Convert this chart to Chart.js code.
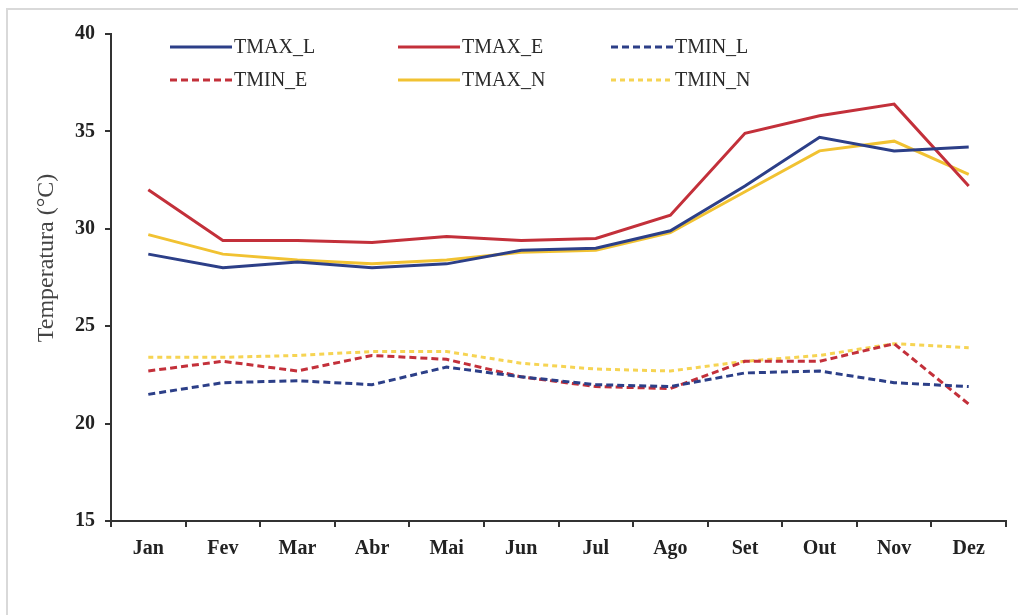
<!DOCTYPE html>
<html>
<head>
<meta charset="utf-8">
<script src="https://cdn.jsdelivr.net/npm/chart.js@4/dist/chart.umd.min.js"></script>
<style>
  html, body { margin: 0; padding: 0; background: #fff; }
  #wrap { width: 1018px; height: 615px; position: relative; }
</style>
</head>
<body>
<div id="wrap"><canvas id="c" width="1018" height="615"></canvas></div>
<script>
// Monthly mean temperatures (°C)
const months = ['Jan', 'Fev', 'Mar', 'Abr', 'Mai', 'Jun', 'Jul', 'Ago', 'Set', 'Out', 'Nov', 'Dez'];
const tmaxL = [28.7, 28.0, 28.3, 28.0, 28.2, 28.9, 29.0, 29.9, 32.2, 34.7, 34.0, 34.2];
const tmaxE = [32.0, 29.4, 29.4, 29.3, 29.6, 29.4, 29.5, 30.7, 34.9, 35.8, 36.4, 32.2];
const tminL = [21.5, 22.1, 22.2, 22.0, 22.9, 22.4, 22.0, 21.9, 22.6, 22.7, 22.1, 21.9];
const tminE = [22.7, 23.2, 22.7, 23.5, 23.3, 22.4, 21.9, 21.8, 23.2, 23.2, 24.1, 21.0];
const tmaxN = [29.7, 28.7, 28.4, 28.2, 28.4, 28.8, 28.9, 29.8, 31.9, 34.0, 34.5, 32.8];
const tminN = [23.4, 23.4, 23.5, 23.7, 23.7, 23.1, 22.8, 22.7, 23.2, 23.5, 24.1, 23.9];
const yTicks = [15, 20, 25, 30, 35, 40];
const yTitle = 'Temperatura (°C)';

const BLUE = '#2c3f88';
const RED = '#c3303a';
const YELLOW = '#f1c232';
const YELLOW_LIGHT = '#f6d453';
const SERIF = '"Liberation Serif", "DejaVu Serif", serif';

function series(label, data, color, dash) {
  return {
    label, data,
    borderColor: color,
    backgroundColor: color,
    borderWidth: 3,
    borderDash: dash || [],
    pointRadius: 0,
    tension: 0,
    fill: false
  };
}

// Two-row legend drawn inside the plot area, row-major order
const legendInside = {
  id: 'legendInside',
  afterDraw(chart) {
    const ctx = chart.ctx;
    const cols = [170, 398, 611];
    const rows = [47, 80];
    ctx.save();
    ctx.font = '20px ' + SERIF;
    ctx.fillStyle = '#2a2a2a';
    ctx.textBaseline = 'middle';
    chart.data.datasets.forEach((ds, i) => {
      const x = cols[i % 3];
      const y = rows[Math.floor(i / 3)];
      ctx.beginPath();
      ctx.strokeStyle = ds.borderColor;
      ctx.lineWidth = 3;
      ctx.setLineDash(ds.borderDash);
      ctx.moveTo(x, y);
      ctx.lineTo(x + 62, y);
      ctx.stroke();
      ctx.setLineDash([]);
      ctx.fillText(ds.label, x + 64, y + 1);
    });
    ctx.restore();
  }
};

// Page frame and rotated axis title
const frame = {
  id: 'frame',
  beforeDraw(chart) {
    const ctx = chart.ctx;
    ctx.save();
    ctx.fillStyle = '#fff';
    ctx.fillRect(0, 0, chart.width, chart.height);
    ctx.strokeStyle = '#d9d9d9';
    ctx.lineWidth = 2;
    ctx.beginPath();
    ctx.moveTo(7, chart.height);
    ctx.lineTo(7, 9);
    ctx.lineTo(chart.width, 9);
    ctx.stroke();
    ctx.restore();
  },
  afterDraw(chart) {
    const ctx = chart.ctx;
    ctx.save();
    ctx.translate(47, 258);
    ctx.rotate(-Math.PI / 2);
    ctx.font = '24px ' + SERIF;
    ctx.fillStyle = '#444';
    ctx.textAlign = 'center';
    ctx.textBaseline = 'middle';
    ctx.fillText(yTitle, 0, 0);
    ctx.restore();
  }
};

new Chart(document.getElementById('c'), {
  type: 'line',
  data: {
    labels: months,
    datasets: [
      series('TMAX_L', tmaxL, BLUE),
      series('TMAX_E', tmaxE, RED),
      series('TMIN_L', tminL, BLUE, [7, 4]),
      series('TMIN_E', tminE, RED, [7, 4]),
      series('TMAX_N', tmaxN, YELLOW),
      series('TMIN_N', tminN, YELLOW_LIGHT, [5, 4])
    ]
  },
  options: {
    responsive: false,
    animation: false,
    devicePixelRatio: 1,
    layout: { padding: { left: 0, right: 12, top: 34, bottom: 0 } },
    plugins: { legend: { display: false }, tooltip: { enabled: false } },
    scales: {
      x: {
        type: 'category',
        offset: true,
        grid: { display: true, offset: true, drawOnChartArea: false, drawTicks: true, tickLength: 6, color: '#333', lineWidth: 2 },
        border: { display: true, color: '#333', width: 2 },
        ticks: { color: '#222', padding: 10, font: { family: SERIF, size: 20, weight: 'bold' }, maxRotation: 0 },
        afterFit(scale) { scale.height = 94; }
      },
      y: {
        min: 15, max: 40,
        afterBuildTicks(scale) { scale.ticks = yTicks.map(v => ({ value: v })); },
        grid: { display: true, drawOnChartArea: false, drawTicks: true, tickLength: 6, color: '#333', lineWidth: 2 },
        border: { display: true, color: '#333', width: 2 },
        ticks: { color: '#222', padding: 10, font: { family: SERIF, size: 20, weight: 'bold' } },
        afterFit(scale) { scale.width = 111; }
      }
    }
  },
  plugins: [frame, legendInside]
});
</script>
</body>
</html>
